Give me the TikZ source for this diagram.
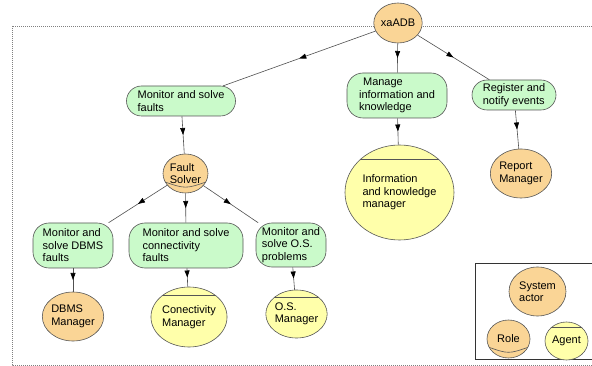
\documentclass[tikz,border=0pt]{standalone}
\usepackage{fontspec}
\setmainfont{Liberation Sans}
\usetikzlibrary{shapes.geometric,shapes.misc,decorations.markings,arrows.meta,calc}

\definecolor{actorfill}{RGB}{250,213,150}
\definecolor{agentfill}{RGB}{255,255,170}
\definecolor{goalfill}{RGB}{202,250,202}
\definecolor{outline}{RGB}{85,85,85}
\definecolor{edgecol}{RGB}{80,80,80}

\tikzset{
  base/.style={draw=outline, line width=0.6pt, inner sep=0pt, align=left,
    font=\fontsize{11}{12.5}\selectfont},
  actor/.style={base, ellipse, fill=actorfill},
  role/.style={actor, path picture={
    \draw[outline, line width=0.6pt]
      ($(path picture bounding box.west)!0.4!(path picture bounding box.south west)$)
      .. controls ($(path picture bounding box.center)!0.8!(path picture bounding box.south)$) ..
      ($(path picture bounding box.east)!0.4!(path picture bounding box.south east)$);}},
  agent/.style={base, ellipse, fill=agentfill, path picture={
    \draw[outline, line width=1pt]
      ($(path picture bounding box.north west)!0.15!(path picture bounding box.south west)$) --
      ($(path picture bounding box.north east)!0.15!(path picture bounding box.south east)$);}},
  goal/.style={base, rounded rectangle, fill=goalfill},
  tallgoal/.style={base, rectangle, rounded corners=16pt, fill=goalfill},
  link/.style={draw=edgecol, line width=0.6pt, postaction={decorate},
    decoration={markings, mark=at position 0.5 with
      {\arrow[black]{Triangle[length=7pt,width=5pt]}}}},
  frame/.style={draw=gray, line width=0.5pt, dash pattern=on 1pt off 1pt},
}

\begin{document}
\begin{tikzpicture}[x=1pt,y=-1pt]
\clip (0,0) rectangle (592,366);
\fill[white] (0,0) rectangle (592,366);

% system boundary
\draw[frame] (12,26) rectangle (620,365);

% legend frame
\draw[black!80, line width=0.8pt] (475,263) rectangle (620,359);

% top-level actor
\node[actor, minimum width=42pt, minimum height=40pt] (adb) at (398,23) {xaADB};

% first-level goals
\node[goal, minimum width=109pt, minimum height=30pt] (mon) at (181,101)
  {Monitor and solve\\faults};
\node[tallgoal, minimum width=100pt, minimum height=45pt] (man) at (397,95.5)
  {\hspace{4pt}Manage\\information and\\knowledge};
\node[goal, minimum width=84pt, minimum height=30pt] (reg) at (514,95)
  {Register and\\notify events};

% fault solver role
\node[role, minimum width=45pt, minimum height=39pt] (fs) at (185.5,173.5)
  {Fault\\Solver};

% second-level goals
\node[tallgoal, minimum width=80pt, minimum height=45pt] (dbg) at (73,245.5)
  {Monitor and\\solve DBMS\\faults};
\node[tallgoal, minimum width=114pt, minimum height=45pt] (cng) at (186,245.5)
  {Monitor and solve\\connectivity\\faults};
\node[tallgoal, minimum width=70pt, minimum height=44pt] (osg) at (291,245)
  {Monitor and\\solve O.S.\\problems};

% managers
\node[actor, minimum width=58pt, minimum height=49pt] (dbm) at (73,316.5)
  {DBMS\\Manager};
\node[agent, minimum width=68pt, minimum height=60pt] (cnm) at (189,317)
  {Conectivity\\Manager};
\node[agent, minimum width=59pt, minimum height=48pt] (osm) at (296.5,314)
  {O.S.\\Manager};
\node[agent, minimum width=109pt, minimum height=95pt] (ikm) at (399.5,192.5)
  {Information\\and knowledge\\manager};
\node[actor, minimum width=56pt, minimum height=49pt] (rep) at (521,173.5)
  {Report\\Manager};

% legend
\node[actor, minimum width=57pt, minimum height=49pt] (lsa) at (537.5,291.5)
  {System\\actor};
\node[role, minimum width=43pt, minimum height=38pt] (lro) at (508.5,339)
  {Role};
\node[agent, minimum width=43pt, minimum height=38pt] (lag) at (566.5,341)
  {Agent};

% dependencies
\draw[link] (adb) -- (mon);
\draw[link] (adb) -- (man);
\draw[link] (adb) -- (reg);
\draw[link] (mon) -- (fs);
\draw[link] (fs) -- (dbg);
\draw[link] (fs) -- (cng);
\draw[link] (fs) -- (osg);
\draw[link] (dbg) -- (dbm);
\draw[link] (cng) -- (cnm);
\draw[link] (osg) -- (osm);
\draw[link] (man) -- (ikm);
\draw[link] (reg) -- (rep);
\end{tikzpicture}
\end{document}
